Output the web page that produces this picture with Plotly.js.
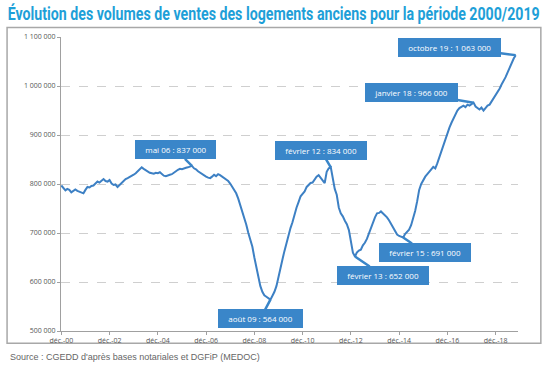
<!DOCTYPE html>
<html>
<head>
<meta charset="utf-8">
<script src="https://cdn.plot.ly/plotly-3.0.1.min.js"></script>
<style>html,body{margin:0;padding:0;background:#fff;}#chart{width:550px;height:368px;}</style>
</head>
<body>
<div id="chart"></div>
<script>
// Monthly series starting déc. 2000
const startYear = 2000, startMonth = 12;
const volumes = [
  797,792,787,790,788,783,786,789,786,784,782,781,
  788,794,793,796,797,801,805,803,807,810,806,805,
  808,801,798,799,794,798,803,807,810,812,814,816,
  819,822,826,829,834,831,828,826,823,822,821,823,
  822,824,820,817,816,818,819,820,824,826,829,831,
  830,832,833,834,835,837,832,830,826,823,820,817,
  815,813,812,815,819,816,820,818,815,812,810,806,
  801,795,788,781,770,758,745,730,717,700,688,672,
  650,628,608,592,580,573,570,567,564,572,580,592,
  608,628,647,663,680,693,710,722,738,752,763,775,
  780,785,794,798,802,803,810,815,818,812,806,802,
  825,832,834,810,790,778,752,740,734,725,718,706,
  680,660,652,660,664,666,675,680,688,700,712,722,
  732,740,741,744,740,738,732,726,719,712,705,697,
  694,693,691,698,702,707,716,728,745,765,788,800,
  808,815,820,826,830,835,832,842,855,868,880,893,
  905,915,925,934,942,950,955,958,960,957,962,960,
  964,966,958,955,952,956,950,955,960,962,968,975,
  980,988,995,1003,1010,1018,1028,1038,1048,1056,1063
].map(v => v * 1000);

const tickDates = ["2000-12-01","2002-12-01","2004-12-01","2006-12-01","2008-12-01","2010-12-01","2012-12-01","2014-12-01","2016-12-01","2018-12-01"];
const tickLabels = ["déc.-00","déc.-02","déc.-04","déc.-06","déc.-08","déc.-10","déc.-12","déc.-14","déc.-16","déc.-18"];
const yTicks = [500000,600000,700000,800000,900000,1000000,1100000];

const calloutDates = ["2006-05-01","2009-08-01","2012-02-01","2013-02-01","2015-02-01","2018-01-01","2019-10-01"];
const calloutValues = [837000,564000,834000,652000,691000,966000,1063000];
const calloutTexts = ["mai 06 : 837 000","août 09 : 564 000","février 12 : 834 000","février 13 : 652 000","février 15 : 691 000","janvier 18 : 966 000","octobre 19 : 1 063 000"];
const calloutOffsets = [[-16,-16],[-10,19],[-10,-17],[28,19],[22,15],[-62,-10],[-66,-8]];

const dates = volumes.map((_, i) => {
  const m = startMonth - 1 + i;
  const y = startYear + Math.floor(m / 12);
  const mm = (m % 12) + 1;
  return y + "-" + String(mm).padStart(2, "0") + "-01";
});

const blue = "#3d80c4";
const boxBlue = "#3a86c9";
const pad = "\u00a0\u00a0\u00a0";

const annotations = calloutTexts.map((t, i) => ({
  x: calloutDates[i], y: calloutValues[i], xref: "x", yref: "y",
  text: pad + t + pad, showarrow: true, arrowhead: 0, arrowwidth: 2.5, arrowcolor: boxBlue,
  ax: calloutOffsets[i][0], ay: calloutOffsets[i][1],
  bgcolor: boxBlue, bordercolor: boxBlue, borderwidth: 1, borderpad: 3,
  font: {family: "Open Sans, sans-serif", size: 8, color: "#ffffff"}
}));

annotations.push({
  xref: "paper", yref: "paper", x: -0.116, y: -0.09, xanchor: "left", yanchor: "middle",
  showarrow: false, text: "Source : CGEDD d'après bases notariales et DGFiP (MEDOC)",
  font: {family: "Liberation Sans, Arial, sans-serif", size: 9, color: "#666666"}
});

const data = [{
  type: "scatter", mode: "lines", x: dates, y: volumes,
  line: {color: blue, width: 2}, hoverinfo: "skip"
}];

const layout = {
  width: 550, height: 368,
  margin: {l: 61, r: 32, t: 37, b: 37},
  paper_bgcolor: "#ffffff", plot_bgcolor: "#ffffff",
  separators: ", ",
  showlegend: false,
  title: {
    text: "Évolution des volumes de ventes des logements anciens pour la période 2000/2019",
    x: 0.014, xanchor: "left", xref: "container",
    y: 0.962, yanchor: "middle", yref: "container",
    font: {family: "Roboto, sans-serif", size: 18, weight: "bold", color: "#1e9fd8"}
  },
  xaxis: {
    type: "date", range: ["2000-11-26", "2019-11-05"],
    tickmode: "array", tickvals: tickDates, ticktext: tickLabels,
    showgrid: false, zeroline: false,
    showline: true, linecolor: "#a0a0a0", linewidth: 1,
    ticks: "outside", ticklen: 3, tickcolor: "#a0a0a0",
    tickfont: {family: "Open Sans, sans-serif", size: 7, color: "#555555"}
  },
  yaxis: {
    range: [500000, 1100000],
    tickmode: "array", tickvals: yTicks, tickformat: ",d",
    showgrid: true, gridcolor: "#cfcfcf", griddash: "dash", gridwidth: 1,
    zeroline: false, showline: true, linecolor: "#a0a0a0", linewidth: 1,
    ticks: "outside", ticklen: 3, tickcolor: "#a0a0a0",
    tickfont: {family: "Open Sans, sans-serif", size: 7, color: "#555555"}
  },
  shapes: [{
    type: "rect", xref: "paper", yref: "paper",
    x0: -0.118, x1: 1.05, y0: -0.042, y1: 1.032,
    line: {color: "#a8a8a8", width: 1.5}, fillcolor: "rgba(0,0,0,0)", layer: "below"
  }],
  annotations: annotations
};

function squeezeTitle() {
  const t = document.querySelector("#chart .gtitle");
  if (t) {
    t.setAttribute("textLength", "532");
    t.setAttribute("lengthAdjust", "spacingAndGlyphs");
  }
}

Plotly.newPlot("chart", data, layout, {staticPlot: true, displayModeBar: false}).then(squeezeTitle);
</script>
</body>
</html>
